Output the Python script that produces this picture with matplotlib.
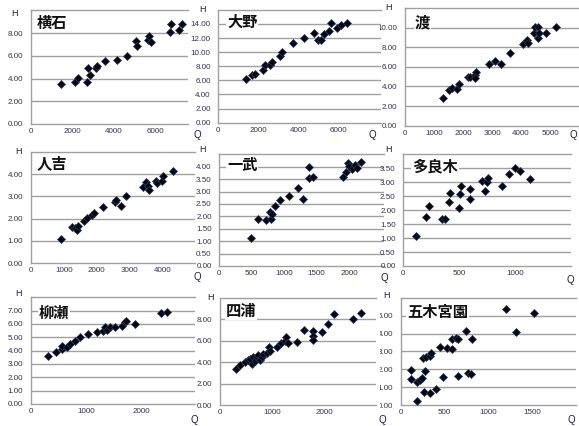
import matplotlib
matplotlib.use("Agg")
import matplotlib.pyplot as plt
from matplotlib.transforms import Bbox, TransformedBbox

plt.rcParams['font.family'] = ['Liberation Sans', 'DejaVu Sans']

W, H = 579, 426

# ---- data (Q = discharge, H = stage) ----
q_yokoishi = [1430, 2120, 2280, 2690, 2770, 2870, 3150, 3180, 3560, 4160, 4670,
              5080, 5150, 5640, 5690, 5800, 6750, 6790, 7160, 7300]
h_yokoishi = [3.55, 3.72, 4.08, 3.72, 4.93, 4.34, 4.93, 5.07, 5.51, 5.66, 6.01,
              7.27, 6.86, 7.42, 7.71, 7.21, 8.06, 8.77, 8.24, 8.83]

q_ohno = [1370, 1670, 1830, 2250, 2330, 2580, 2670, 3080, 3170, 3720, 4300,
          4780, 5000, 5130, 5280, 5550, 5620, 5950, 6130, 6420]
h_ohno = [6.2, 6.76, 6.95, 7.47, 8.14, 8.14, 8.56, 9.46, 10.08, 11.26, 12.0,
          12.68, 11.73, 11.73, 12.63, 13.06, 14.1, 13.48, 13.86, 14.1]

q_watari = [1320, 1530, 1610, 1780, 1860, 2180, 2240, 2410, 2440, 2410, 2910,
            3100, 3300, 3620, 4080, 4200, 4250, 4460, 4480, 4580, 4600, 4620,
            4850, 5210]
h_watari = [2.86, 3.61, 3.81, 3.71, 4.25, 5.0, 5.0, 5.14, 5.48, 4.9, 6.26,
            6.63, 6.26, 7.38, 8.33, 8.74, 8.47, 9.42, 10.03, 8.91, 10.03, 9.49,
            9.49, 10.03]

q_hitoyoshi = [910, 1260, 1340, 1390, 1420, 1620, 1720, 1850, 1920, 2200, 2560,
               2580, 2730, 2890, 3400, 3500, 3570, 3590, 3800, 3830, 3980, 4030,
               4320]
h_hitoyoshi = [1.09, 1.61, 1.57, 1.49, 1.69, 1.91, 2.04, 2.16, 2.24, 2.54, 2.76,
               2.84, 2.58, 3.01, 3.43, 3.66, 3.48, 3.28, 3.70, 3.58, 3.67, 3.91,
               4.13]

q_ichibu = [490, 590, 720, 780, 790, 810, 860, 935, 1080, 1210, 1295, 1390,
            1390, 1450, 1910, 1960, 1990, 2000, 2040, 2100, 2130, 2190]
h_ichibu = [1.14, 1.89, 1.85, 2.19, 1.89, 2.09, 2.43, 2.66, 2.82, 3.15, 2.68,
            4.0, 3.53, 3.57, 3.57, 3.80, 4.13, 4.04, 3.89, 4.07, 3.93, 4.17]

q_taragi = [110, 200, 230, 350, 370, 410, 420, 500, 510, 520, 600, 600, 700,
            730, 745, 755, 880, 945, 995, 1040, 1135]
h_taragi = [1.08, 1.74, 2.16, 1.67, 1.70, 2.31, 2.63, 2.09, 2.58, 2.88, 2.76,
            2.39, 3.06, 2.70, 3.02, 3.14, 2.88, 3.30, 3.52, 3.42, 3.11]

q_yanase = [310, 460, 560, 570, 650, 710, 790, 890, 1040, 1190, 1310, 1340,
            1370, 1430, 1520, 1650, 1690, 1710, 1880, 2340, 2450]
h_yanase = [3.6, 3.93, 4.13, 4.38, 4.25, 4.48, 4.75, 5.05, 5.23, 5.38, 5.5,
            5.75, 5.55, 5.75, 5.75, 5.88, 6.13, 6.25, 6.0, 6.8, 6.93]

q_yotsuura = [310, 385, 480, 545, 580, 610, 630, 670, 705, 740, 770, 800, 830,
              900, 940, 960, 1090, 1170, 1250, 1260, 1300, 1490, 1620, 1795,
              1795, 1795, 1970, 2080, 2190, 2550, 2710]
h_yotsuura = [3.33, 3.7, 4.05, 4.2, 4.33, 3.8, 4.45, 4.14, 4.52, 4.67, 4.2,
              4.52, 4.77, 4.89, 5.45, 5.08, 5.45, 5.76, 6.01, 6.32, 5.76, 5.92,
              7.01, 6.92, 6.45, 6.07, 6.85, 7.57, 8.47, 8.01, 8.57]

q_itsukimiyazono = [115, 115, 185, 185, 220, 240, 270, 280, 260, 285, 330, 330,
                    345, 400, 445, 480, 525, 585, 585, 635, 660, 660, 750, 775,
                    805, 820, 1205, 1320, 1530]
h_itsukimiyazono = [1.96, 1.47, 0.24, 1.31, 1.40, 1.49, 0.71, 1.90, 2.61, 2.71,
                    0.65, 2.76, 2.89, 0.90, 3.26, 1.59, 3.17, 3.12, 3.69, 3.77,
                    3.68, 1.64, 4.14, 1.77, 1.72, 3.69, 5.35, 4.07, 5.13]

# ---- layout in pixels: left, zero line, right, top, xmax, ymax, x ticks, y ticks
panels = [
    ("横石", q_yokoishi, h_yokoishi, (31, 124, 188, 10.3), 7600, 10,
     [0, 2000, 4000, 6000], [0, 2, 4, 6, 8], (37, 23), (14, 14), (197, 135), 0),
    ("大野", q_ohno, h_ohno, (218.3, 122.7, 381, 9.9), 8130, 16,
     [0, 2000, 4000, 6000], [0, 2, 4, 6, 8, 10, 12, 14], (227, 22), (202, 9), (372, 135), 1),
    ("渡", q_watari, h_watari, (405, 125.7, 579, 8), 6000, 12,
     [0, 1000, 2000, 3000, 4000, 5000], [0, 2, 4, 6, 8, 10], (415, 22), (388, 8), (573, 135), 2),
    ("人吉", q_hitoyoshi, h_hitoyoshi, (31, 263.3, 195, 151.7), 5000, 5,
     [0, 1000, 2000, 3000, 4000], [0, 1, 2, 3, 4], (37, 163), (18, 151), (197, 277), 3),
    ("一武", q_ichibu, h_ichibu, (219.3, 266, 384, 154.3), 2540, 4.5,
     [0, 500, 1000, 1500, 2000], [0, 0.5, 1, 1.5, 2, 2.5, 3, 3.5, 4], (227, 165), (203, 150), (384, 278), 4),
    ("多良木", q_taragi, h_taragi, (403.3, 266, 571, 154.4), 1500, 4,
     [0, 500, 1000], [0, 0.5, 1, 1.5, 2, 2.5, 3, 3.5], (412, 166), (388, 150), (570, 280), 5),
    ("柳瀬", q_yanase, h_yanase, (30.7, 404, 195, 297.3), 2960, 8,
     [0, 1000, 2000], [0, 1, 2, 3, 4, 5, 6, 7], (39, 313), (18, 293), (194, 420), 6),
    ("四浦", q_yotsuura, h_yotsuura, (220, 405, 376, 298), 3000, 10,
     [0, 1000, 2000], [0, 2, 4, 6, 8], (226, 311), (211, 297), (382, 420), 7),
    ("五木宮園", q_itsukimiyazono, h_itsukimiyazono, (400.7, 405, 575.5, 297.8), 2000, 6,
     [0, 500, 1000, 1500], [0, 1, 2, 3, 4, 5], (407, 312), (387, 296), (571, 420), 8),
]

cells_x = [(0, 190), (190, 380), (380, 579)]
cells_y = [(0, 140), (140, 280), (280, 426)]

fig = plt.figure(figsize=(W / 100, H / 100), dpi=100)
fig.patch.set_facecolor("white")


def fx(x):
    return x / W


def fy(y):
    return 1 - y / H


tick_col = "#34344f"
grid_col = "#a0a0a0"

for (title, q, h, box, xmax, ymax, xt, yt, tpos, hpos, qpos, idx) in panels:
    left, zero, right, top = box
    ax = fig.add_axes([fx(left), fy(zero), (right - left) / W, (zero - top) / H])
    ax.set_xlim(0, xmax)
    ax.set_ylim(0, ymax)
    ax.set_xticks(xt)
    ax.set_yticks(yt)
    ax.set_xticklabels([str(v) for v in xt])
    ax.set_yticklabels(["%.2f" % v for v in yt])
    ax.tick_params(length=0, labelsize=5.8, labelcolor=tick_col)
    ax.tick_params(axis="y", pad=5.5)
    ax.tick_params(axis="x", pad=3)
    for v in yt[1:]:
        ax.axhline(v, color=grid_col, lw=1.0, zorder=1)
    ax.axhline(ymax, color=grid_col, lw=1.0, zorder=1, clip_on=False)
    for s in ["top", "right"]:
        ax.spines[s].set_visible(False)
    for s in ["left", "bottom"]:
        ax.spines[s].set_color(grid_col)
        ax.spines[s].set_linewidth(1.0)
    ax.plot(q, h, linestyle="none", marker="D", markersize=3.9,
            color="#05050f", markeredgecolor="#2a3a5a", markeredgewidth=0.5,
            zorder=3, clip_on=False)

    # cut each panel to its own cell like the pasted images
    cx = cells_x[idx % 3]
    cy = cells_y[idx // 3]
    cell = TransformedBbox(Bbox.from_extents(fx(cx[0]), fy(cy[1]), fx(cx[1]), fy(cy[0])),
                           fig.transFigure)
    for lab in ax.get_xticklabels() + ax.get_yticklabels():
        lab.set_clip_box(cell)
        lab.set_clip_on(True)

    fig.text(fx(tpos[0]), fy(tpos[1]), title, ha="left", va="center",
             fontsize=11, fontweight="bold", family=["Noto Sans CJK JP"],
             color="#101010",
             bbox=dict(facecolor="white", edgecolor="none", pad=0.5))
    fig.text(fx(hpos[0]), fy(hpos[1]), "H", ha="center", va="center",
             fontsize=6.5, color="#1c1c44")
    fig.text(fx(qpos[0]), fy(qpos[1]), "Q", ha="center", va="center",
             fontsize=7, color="#1c1c44")

fig.savefig("out.png", dpi=100, facecolor="white")
